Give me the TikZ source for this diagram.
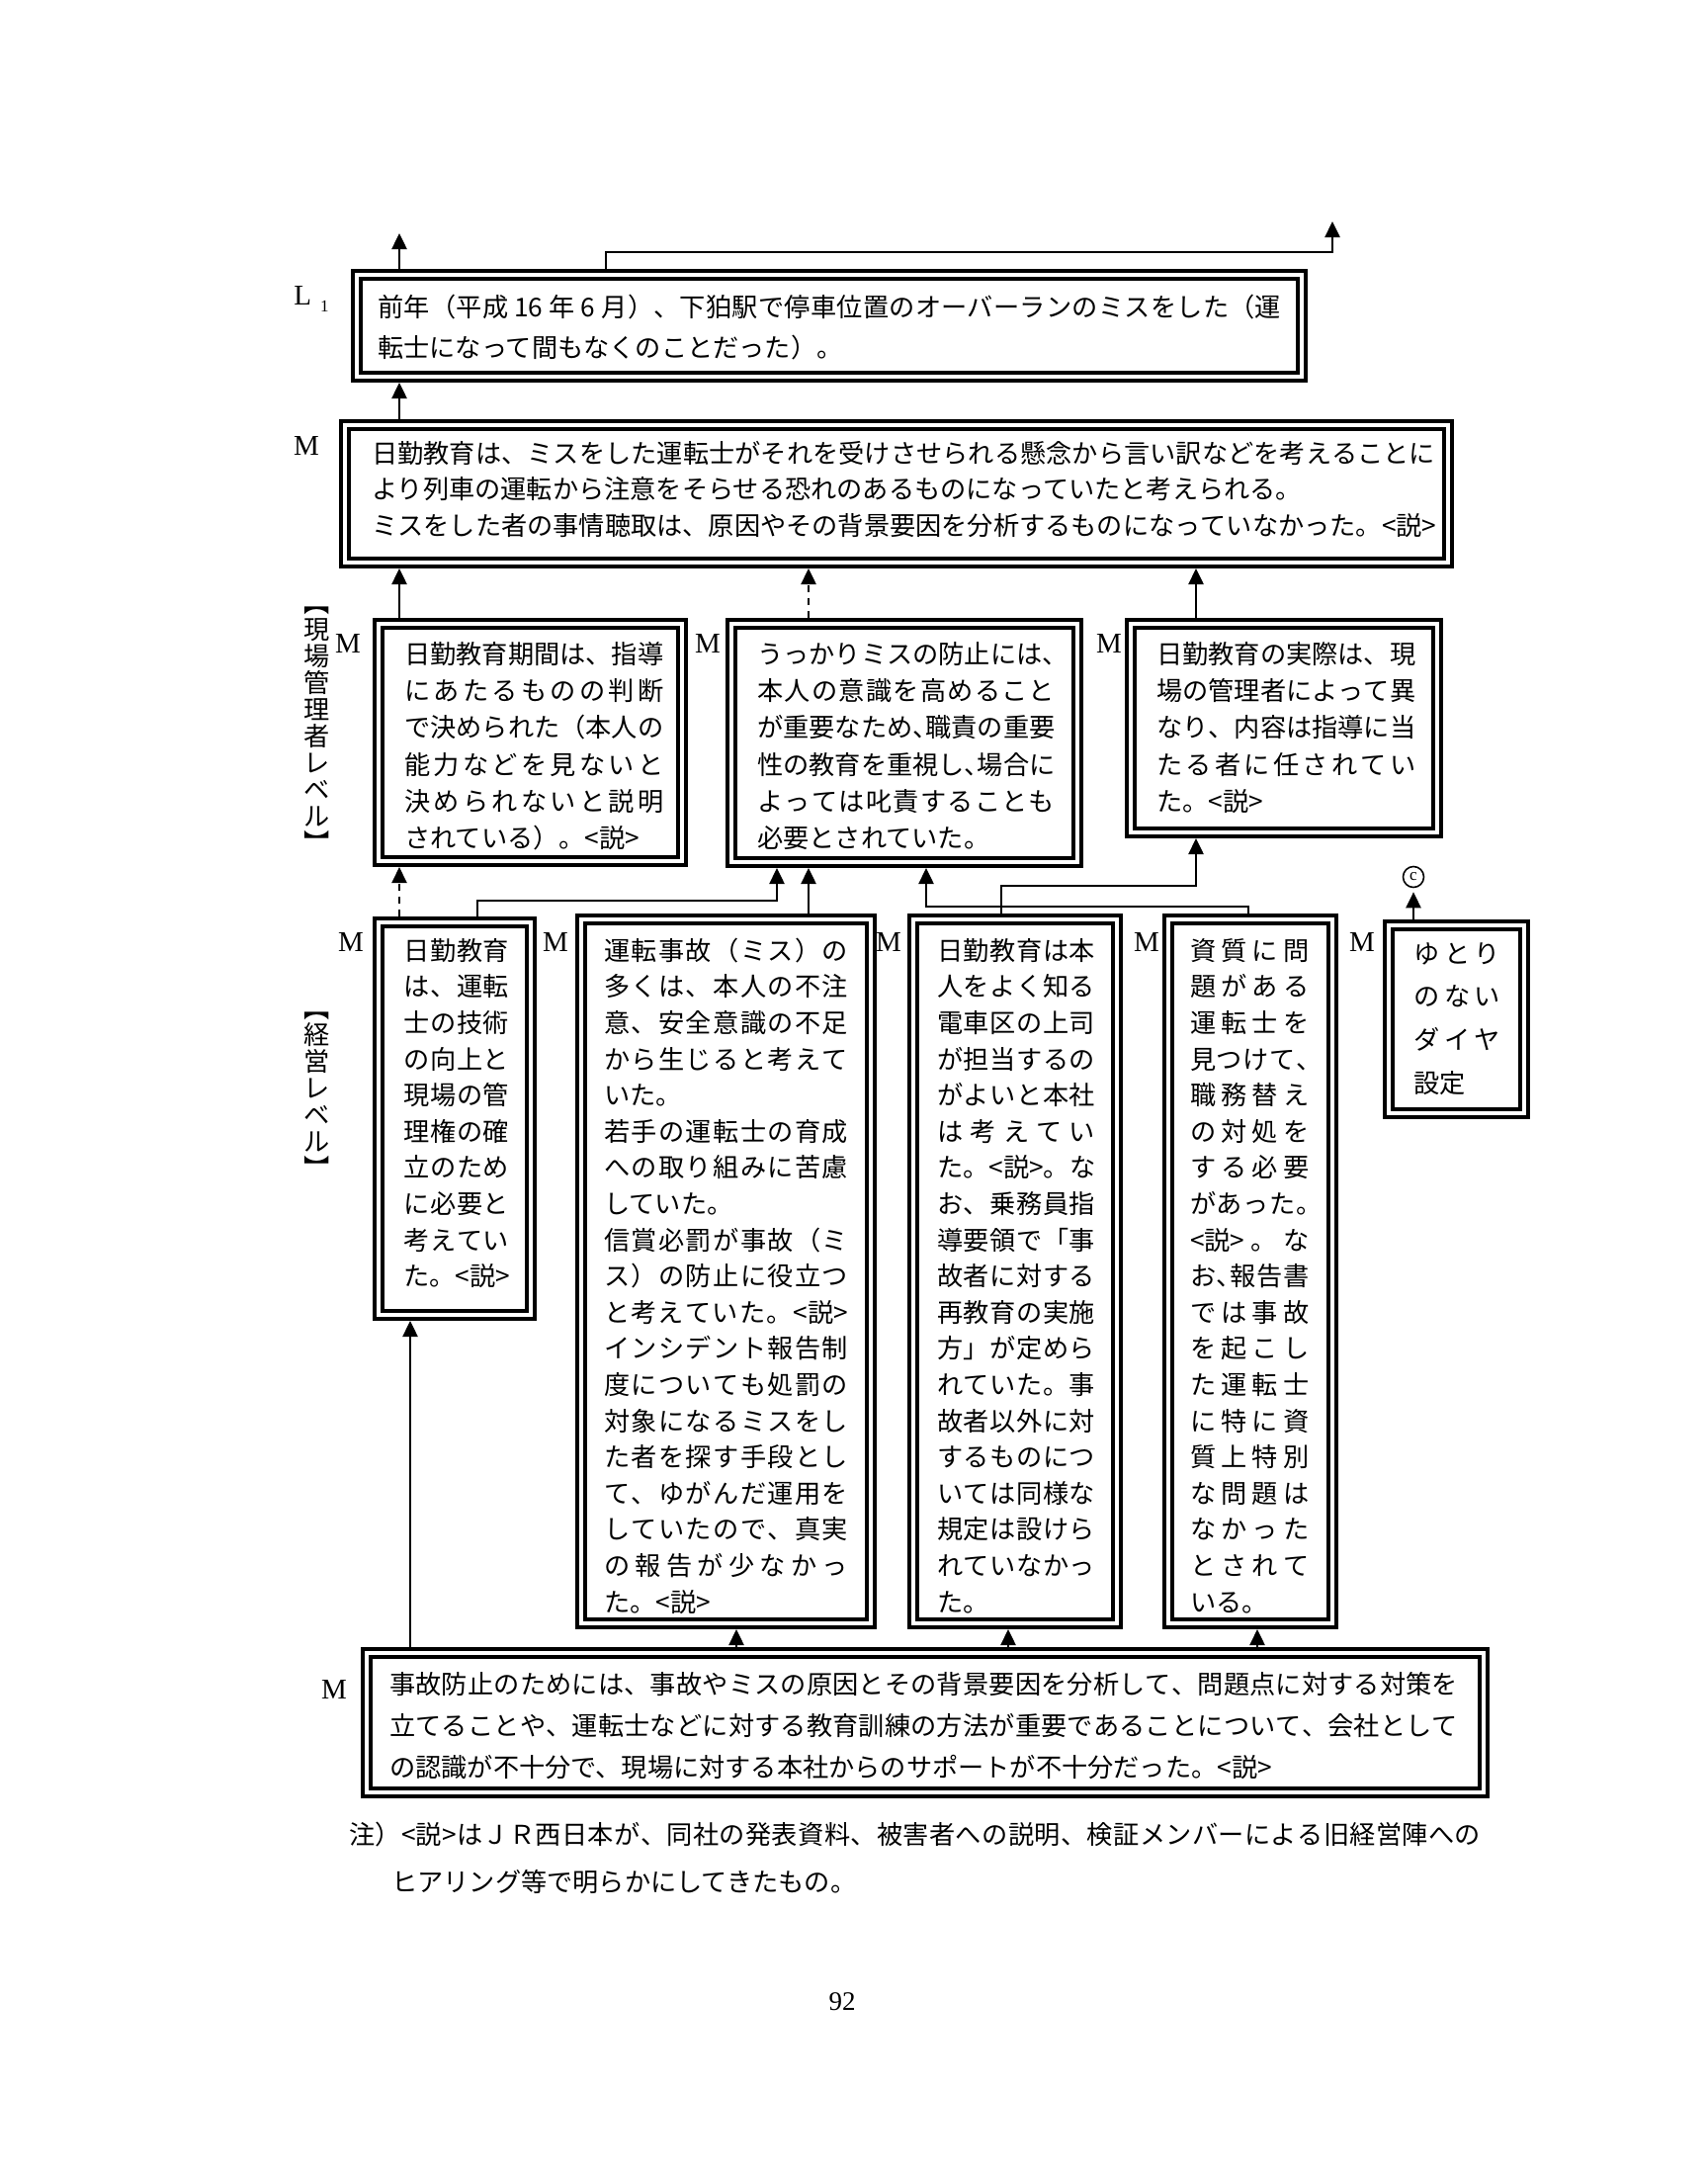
\documentclass[tikz,border=0pt]{standalone}
\usepackage{fontspec}
\newfontfamily\jp{Noto Sans CJK JP}
\newfontfamily\ser{Liberation Serif}
\usetikzlibrary{arrows.meta}
\newlength\jw
\def\jend{}
\def\jfirst#1{#1\jrest}
\def\jrest#1{\ifx\jend#1\else\hfil#1\expandafter\jrest\fi}
\newcommand\jl[1]{\hbox to\jw{\strut\jfirst#1\jend}}
\newcommand\jn[1]{\hbox{\strut#1}}
\newcommand\hc{\makebox[.5em][l]{、}}
\newcommand\hk{\makebox[.5em][l]{。}}
\tikzset{
 dbox/.style={draw, line width=4pt, double=white, double distance=4pt, inner sep=0pt, outer sep=6pt},
 arr/.style={line width=2.5pt, -{Triangle[width=15pt,length=16pt]}},
 dsh/.style={dash pattern=on 7pt off 6pt},
 lab/.style={font=\ser\fontsize{29}{29}\selectfont, inner sep=0pt},
 tx/.style={anchor=north west, inner sep=0pt},
}
\begin{document}
\begin{tikzpicture}[x=1pt,y=-1pt]
\fill[white] (0,0) rectangle (1728,2200);
\useasboundingbox (0,0) rectangle (1728,2200);

% boxes
\node[dbox, minimum width=956pt, minimum height=103pt] (L1) at (839,329.5) {};
\node[dbox, minimum width=1116pt, minimum height=139pt] (M1) at (907,499.5) {};
\node[dbox, minimum width=307pt, minimum height=240pt] (A) at (536.5,751) {};
\node[dbox, minimum width=350pt, minimum height=241pt] (B) at (915,751.5) {};
\node[dbox, minimum width=310pt, minimum height=211pt] (C) at (1299,736.5) {};
\node[dbox, minimum width=154pt, minimum height=397pt] (D) at (460,1131.5) {};
\node[dbox, minimum width=293pt, minimum height=712pt] (E) at (734.5,1286) {};
\node[dbox, minimum width=206pt, minimum height=712pt] (F) at (1027,1286) {};
\node[dbox, minimum width=166pt, minimum height=712pt] (G) at (1265,1286) {};
\node[dbox, minimum width=137pt, minimum height=190pt] (H) at (1473.5,1031) {};
\node[dbox, minimum width=1130pt, minimum height=141pt] (Bot) at (936,1742.5) {};

% texts
\node[tx, font=\jp\fontsize{26.2}{41}\selectfont] (tL1) at (382,291.8) {\setlength\jw{914pt}\vtop{%
\jl{前年（平成{\ 16\ }年{\ 6\ }月）、下狛駅で停車位置のオーバーランのミスをした（運}
\jn{転士になって間もなくのことだった）。}}};

\node[tx, font=\jp\fontsize{26.2}{36.5}\selectfont] (tM1) at (376,442.5) {\setlength\jw{1076pt}\vtop{%
\jl{日勤教育は、ミスをした運転士がそれを受けさせられる懸念から言い訳などを考えることに}
\jn{より列車の運転から注意をそらせる恐れのあるものになっていたと考えられる。}
\jl{ミスをした者の事情聴取は、原因やその背景要因を分析するものになっていなかった。{<説>}}}};

\node[tx, font=\jp\fontsize{26.2}{37.3}\selectfont] (tA) at (409,644.9) {\setlength\jw{262pt}\vtop{%
\jl{日勤教育期間は、指導}
\jl{にあたるものの判断}
\jl{で決められた（本人の}
\jl{能力などを見ないと}
\jl{決められないと説明}
\jn{されている）。<説>}}};

\node[tx, font=\jp\fontsize{26.2}{37.3}\selectfont] (tB) at (766,644.9) {\setlength\jw{301pt}\vtop{%
\jl{うっかりミスの防止には\hc}
\jl{本人の意識を高めること}
\jl{が重要なため\hc 職責の重要}
\jl{性の教育を重視し\hc 場合に}
\jl{よっては叱責することも}
\jn{必要とされていた。}}};

\node[tx, font=\jp\fontsize{26.2}{37.3}\selectfont] (tC) at (1170,644.9) {\setlength\jw{262pt}\vtop{%
\jl{日勤教育の実際は、現}
\jl{場の管理者によって異}
\jl{なり、内容は指導に当}
\jl{たる者に任されてい}
\jn{た。<説>}}};

\node[tx, font=\jp\fontsize{26.2}{36.6}\selectfont] (tD) at (408,945.4) {\setlength\jw{107pt}\vtop{%
\jl{日勤教育}
\jl{は、運転}
\jl{士の技術}
\jl{の向上と}
\jl{現場の管}
\jl{理権の確}
\jl{立のため}
\jl{に必要と}
\jl{考えてい}
\jl{た。{<説>}}}};

\node[tx, font=\jp\fontsize{26.2}{36.6}\selectfont] (tE) at (611,945.4) {\setlength\jw{247pt}\vtop{%
\jl{運転事故（ミス）の}
\jl{多くは、本人の不注}
\jl{意、安全意識の不足}
\jl{から生じると考えて}
\jn{いた。}
\jl{若手の運転士の育成}
\jl{への取り組みに苦慮}
\jn{していた。}
\jl{信賞必罰が事故（ミ}
\jl{ス）の防止に役立つ}
\jl{と考えていた。{<説>}}
\jl{インシデント報告制}
\jl{度についても処罰の}
\jl{対象になるミスをし}
\jl{た者を探す手段とし}
\jl{て、ゆがんだ運用を}
\jl{していたので、真実}
\jl{の報告が少なかっ}
\jn{た。<説>}}};

\node[tx, font=\jp\fontsize{26.2}{36.6}\selectfont] (tF) at (948,945.4) {\setlength\jw{160pt}\vtop{%
\jl{日勤教育は本}
\jl{人をよく知る}
\jl{電車区の上司}
\jl{が担当するの}
\jl{がよいと本社}
\jl{は考えてい}
\jl{た。{<説>}。な}
\jl{お、乗務員指}
\jl{導要領で「事}
\jl{故者に対する}
\jl{再教育の実施}
\jl{方」が定めら}
\jl{れていた。事}
\jl{故者以外に対}
\jl{するものにつ}
\jl{いては同様な}
\jl{規定は設けら}
\jl{れていなかっ}
\jn{た。}}};

\node[tx, font=\jp\fontsize{26.2}{36.6}\selectfont] (tG) at (1204,945.4) {\setlength\jw{120pt}\vtop{%
\jl{資質に問}
\jl{題がある}
\jl{運転士を}
\jl{見つけて\hc}
\jl{職務替え}
\jl{の対処を}
\jl{する必要}
\jl{があった\hk}
\jl{{<説>}。な}
\jl{お\hc 報告書}
\jl{では事故}
\jl{を起こし}
\jl{た運転士}
\jl{に特に資}
\jl{質上特別}
\jl{な問題は}
\jl{なかった}
\jl{とされて}
\jn{いる。}}};

\node[tx, font=\jp\fontsize{26.2}{43.7}\selectfont] (tH) at (1430,943.4) {\setlength\jw{88pt}\vtop{%
\jl{ゆとり}
\jl{のない}
\jl{ダイヤ}
\jn{設定}}};

\node[tx, font=\jp\fontsize{26.2}{42}\selectfont] (tBot) at (394,1683.6) {\setlength\jw{1081pt}\vtop{%
\jl{事故防止のためには、事故やミスの原因とその背景要因を分析して、問題点に対する対策を}
\jl{立てることや、運転士などに対する教育訓練の方法が重要であることについて、会社として}
\jn{の認識が不十分で、現場に対する本社からのサポートが不十分だった。<説>}}};

\node[tx, font=\jp\fontsize{26.2}{48}\selectfont] (tNote) at (353,1831.4) {\setlength\jw{1145pt}\vtop{%
\jl{注）{<説>}はＪＲ西日本が、同社の発表資料、被害者への説明、検証メンバーによる旧経営陣への}
\jn{\hskip43pt ヒアリング等で明らかにしてきたもの。}}};

% vertical labels
\node[font=\jp\fontsize{26.2}{27}\selectfont, align=center, inner sep=0pt] (v1) at (321,738) {︻\\現\\場\\管\\理\\者\\レ\\ベ\\ル\\︼};
\node[font=\jp\fontsize{26.2}{27}\selectfont, align=center, inner sep=0pt] (v2) at (321,1108) {︻\\経\\営\\レ\\ベ\\ル\\︼};

% M / L labels
\node[lab] (lL1) at (315,303) {L\hspace{9pt}\raisebox{-7pt}{\fontsize{17}{17}\selectfont 1}};
\node[lab] (lM1) at (310,451) {M};
\node[lab] (lA) at (352,651) {M};
\node[lab] (lB) at (716,651) {M};
\node[lab] (lC) at (1122,651) {M};
\node[lab] (lD) at (355,953) {M};
\node[lab] (lE) at (562,953) {M};
\node[lab] (lF) at (899,953) {M};
\node[lab] (lG) at (1160,953) {M};
\node[lab] (lH) at (1378,953) {M};
\node[lab] (lBot) at (338,1709) {M};

\node[circle, draw, line width=1.6pt, minimum size=21pt, inner sep=0pt, font=\ser\fontsize{17}{17}\selectfont] (cc) at (1430,887) {c};
\node[font=\ser\fontsize{27}{27}\selectfont, inner sep=0pt] (pn) at (852,2025) {92};

% coordinates
\coordinate (k1) at (404,0);
\coordinate (k2) at (415,0);
\coordinate (k3) at (483,0);
\coordinate (k4) at (786,0);
\coordinate (kB) at (818,0);
\coordinate (k7) at (937,0);
\coordinate (k8) at (1263,0);
\coordinate (k9) at (1013,0);
\coordinate (kC) at (1210,0);
\coordinate (kH) at (1430,0);
\coordinate (kE) at (745,0);
\coordinate (kF) at (1020,0);
\coordinate (kG) at (1272,0);
\coordinate (kT) at (613,0);
\coordinate (hT) at (0,255);
\coordinate (h1) at (0,911);
\coordinate (h2) at (0,917);
\coordinate (h3) at (0,896);
\coordinate (tL) at (404,236);
\coordinate (tR) at (1348,224);

% connectors
\draw[arr] (L1.north -| k1) -- (tL);
\draw[arr] (L1.north -| kT) -- (kT |- hT) -- (tR |- hT) -- (tR);
\draw[arr] (M1.north -| k1) -- (L1.south -| k1);
\draw[arr] (A.north -| k1) -- (M1.south -| k1);
\draw[arr, dsh] (B.north -| kB) -- (M1.south -| kB);
\draw[arr] (C.north -| kC) -- (M1.south -| kC);
\draw[arr, dsh, line width=2pt] (D.north -| k1) -- (A.south -| k1);
\draw[arr] (D.north -| k3) -- (k3 |- h1) -- (k4 |- h1) -- (B.south -| k4);
\draw[arr] (E.north -| kB) -- (B.south -| kB);
\draw[arr] (G.north -| k8) -- (k8 |- h2) -- (k7 |- h2) -- (B.south -| k7);
\draw[arr] (F.north -| k9) -- (k9 |- h3) -- (kC |- h3) -- (C.south -| kC);
\draw[arr] (H.north -| kH) -- ([yshift=-4pt]cc.south);
\draw[arr] (Bot.north -| k2) -- (D.south -| k2);
\draw[arr] (Bot.north -| kE) -- (E.south -| kE);
\draw[arr] (Bot.north -| kF) -- (F.south -| kF);
\draw[arr] (Bot.north -| kG) -- (G.south -| kG);
\end{tikzpicture}
\end{document}
